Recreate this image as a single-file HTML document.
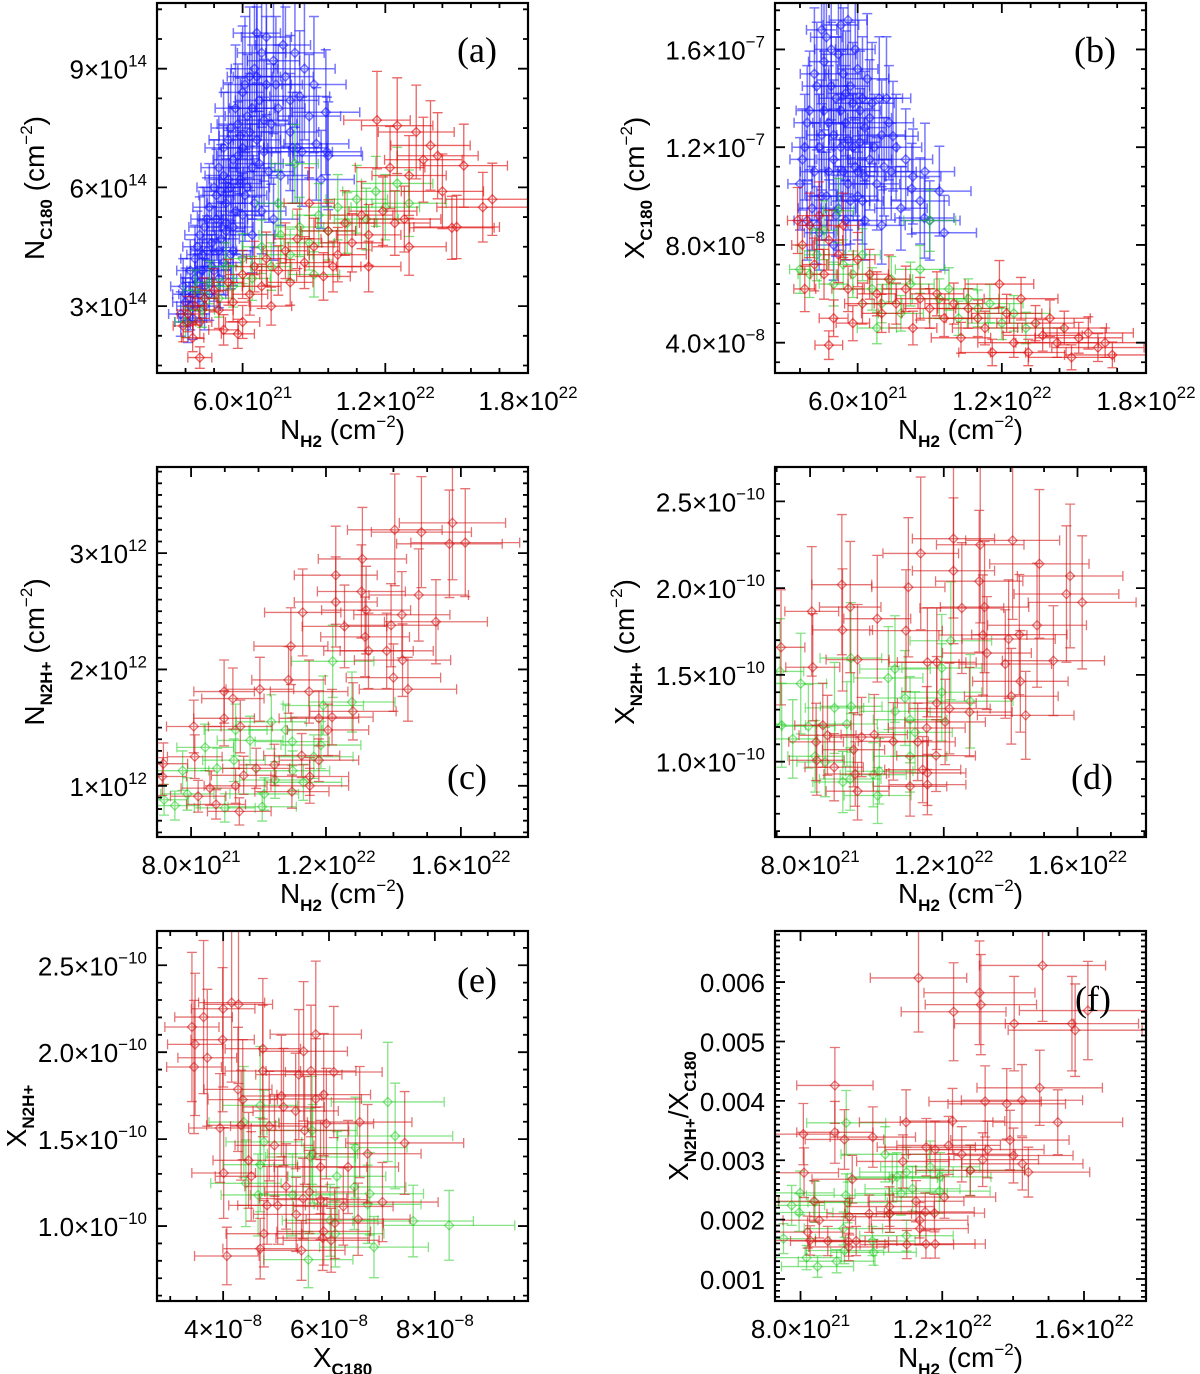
<!DOCTYPE html>
<html><head><meta charset="utf-8"><title>Six-panel scatter with error bars</title>
<style>
html,body{margin:0;padding:0;background:#fff;}
svg{display:block;}
.tick{font-family:"Liberation Sans",sans-serif;font-size:26px;fill:#000;}
.ttl{font-family:"Liberation Sans",sans-serif;font-size:28px;fill:#000;}
.plab{font-family:"Liberation Serif",serif;font-size:36px;fill:#000;}
</style></head>
<body>
<svg id="fig" width="1200" height="1374" viewBox="0 0 1200 1374" xmlns="http://www.w3.org/2000/svg"></svg>
<script>
// ---------- Panel (a): N_C18O vs N_H2 (x in 1e21, y in 1e14)
const aBlueX=[3.4,3.6,3.5,3.7,3.8,3.9,4.0,4.1,4.2,4.3,4.4,4.5,4.6,4.7,4.8,4.9,5.0,5.1,5.2,5.3,5.4,5.5,5.6,5.7,5.8,5.9,6.0,6.1,6.2,6.3,6.4,6.5,6.6,6.7,6.8,6.9,7.0,7.2,7.3,7.5,7.6,7.8,8.0,8.2,8.4,8.5,8.6,8.8,9.0,9.1,9.3,9.5,9.6,5.5,6.0,4.6,5.0,6.8,7.3,8.1,9.55,4.4,5.2,5.9,6.6,
3.6,3.8,4.0,4.1,4.3,4.5,4.7,4.9,5.0,5.1,5.2,5.3,5.4,5.5,5.6,5.7,5.8,5.9,6.0,6.1,6.2,6.3,6.4,6.5,6.6,6.7,6.9,7.0,7.1,7.4,7.7,8.0,8.3,4.2,4.8,5.6,6.4,3.9,4.4,5.3];
const aBlueY=[2.8,3.1,3.5,2.6,3.9,3.3,4.2,3.6,4.8,3.9,5.0,4.4,5.5,4.0,6.0,5.2,6.5,4.7,7.0,5.6,6.2,7.5,5.0,8.0,6.8,7.3,8.4,5.8,7.8,8.8,6.5,9.0,7.2,8.2,9.4,6.9,8.6,7.6,9.2,8.0,6.3,8.8,7.4,9.4,8.3,6.9,9.0,7.8,8.6,7.1,6.2,7.9,6.8,4.3,5.3,3.3,3.7,5.4,5.2,7.0,6.9,3.0,4.1,6.1,9.9,
3.3,3.0,3.7,4.5,4.3,5.2,4.6,5.8,4.4,5.9,6.3,4.9,7.2,6.0,6.7,5.4,7.6,6.2,7.0,8.6,6.0,7.4,8.0,5.6,8.8,6.6,7.7,9.8,6.4,8.6,9.6,8.2,7.0,3.3,3.9,4.4,4.8,2.7,3.5,5.1];
const aRedX=[3.5,3.7,3.9,4.0,4.2,4.4,4.2,4.8,5.0,5.2,5.4,5.6,5.8,6.0,6.3,6.5,6.8,7.0,7.2,7.5,7.8,8.0,8.3,8.6,8.8,9.0,9.4,9.6,10.0,10.3,10.6,11.0,11.3,11.65,11.9,12.5,12.2,12.4,13.0,13.3,13.0,13.9,13.6,14.2,14.4,15.3,15.0,16.1,14.8,16.5,11.3,12.8,9.8,6.0];
const aRedY=[2.5,2.8,2.2,3.0,2.6,3.2,1.7,3.4,2.9,2.4,3.6,3.1,2.3,3.8,3.3,4.0,3.5,4.2,3.0,3.9,4.4,3.6,4.7,4.1,5.6,4.5,3.75,4.9,4.3,5.1,4.6,5.3,4.8,7.7,5.4,7.56,6.5,5.1,4.5,7.4,6.3,7.06,6.7,6.8,5.9,6.55,5.0,5.5,4.98,5.7,4.0,5.2,4.0,2.6];
const aGreenX=[3.6,4.0,4.3,4.6,5.0,5.3,5.6,6.0,6.4,6.8,7.2,7.6,8.0,8.4,8.8,9.2,9.6,10.0,10.4,10.8,11.2,11.6,12.0,12.5,13.0,8.2,7.5,9.0];
const aGreenY=[2.6,3.4,2.9,3.6,3.2,4.0,3.5,4.2,3.7,4.5,4.0,4.8,4.3,5.0,4.6,5.3,4.9,5.5,5.1,5.7,5.2,5.9,5.5,6.1,5.6,6.6,5.6,3.8];
const aXTicks=[6,12,18];
const aXLabels=[["6.0×10","21"],["1.2×10","22"],["1.8×10","22"]];
const aYTicks=[3,6,9];
const aYLabels=[["3×10","14"],["6×10","14"],["9×10","14"]];

// ---------- Panel (b): X_C18O vs N_H2 (x in 1e21, y in 1e-8)
const bBlueX=[3.6,3.8,3.9,4.0,4.2,4.3,4.4,4.5,4.6,4.7,4.8,4.9,5.0,5.1,5.2,5.3,5.4,5.5,5.6,5.7,5.8,5.9,6.0,6.1,6.2,6.3,6.4,6.5,6.6,6.8,7.0,7.2,7.4,7.6,7.8,8.0,8.3,8.6,8.8,9.0,9.4,9.6,7.0,5.0,6.3,4.5,5.6,7.47,8.78,8.25,
3.7,3.9,4.1,4.2,4.4,4.5,4.6,4.8,4.9,5.0,5.1,5.2,5.3,5.4,5.5,5.6,5.7,5.8,5.9,6.0,6.1,6.2,6.3,6.5,6.7,6.9,7.1,7.3,4.3,5.5,6.0,4.7,5.3];
const bBlueY=[10.5,12.0,9.0,13.5,11.0,14.5,8.5,12.5,15.5,10.0,13.0,16.0,11.5,14.0,9.5,12.0,15.0,13.0,10.5,14.5,12.0,16.0,11.0,13.5,9.8,12.8,14.8,11.5,13.8,10.5,12.5,14.0,11.0,12.0,9.5,11.5,10.8,9.8,11.0,9.0,10.2,8.5,8.8,8.0,9.0,16.8,17.2,12.45,9.1,10.3,
11.5,13.0,9.5,15.0,12.0,10.0,13.5,11.0,14.5,12.5,9.2,15.8,13.5,11.0,14.2,12.3,9.8,13.8,11.2,15.2,12.2,14.0,10.8,13.2,12.0,14.0,11.2,13.0,8.8,9.0,10.0,16.5,17.0];
const bRedX=[3.5,3.7,3.8,4.0,4.2,4.4,4.6,4.8,5.0,5.2,5.4,5.6,5.8,6.0,6.2,6.5,6.8,7.0,7.3,7.6,8.0,8.3,8.6,9.0,9.3,9.6,10.0,10.3,10.6,11.0,11.3,11.6,11.9,12.2,12.5,12.8,13.1,13.4,13.7,14.0,14.3,14.6,14.9,15.2,15.6,16.0,16.3,16.6,4.8];
const bRedY=[9.0,8.0,6.2,8.8,7.2,9.2,6.8,8.2,5.0,7.6,8.8,6.2,4.8,7.4,5.6,6.8,6.0,5.2,6.6,5.6,6.2,4.6,5.8,5.4,6.0,5.0,5.6,4.2,5.4,5.0,4.6,3.6,6.4,5.2,4.0,5.8,3.6,4.8,4.3,5.0,4.0,4.6,3.4,4.2,4.4,3.8,4.0,3.5,3.9];
const bGreenX=[3.6,4.0,4.3,4.6,5.0,5.4,5.8,6.2,6.6,7.0,7.4,7.8,8.2,8.6,9.0,9.4,9.8,10.2,10.6,11.0,11.5,12.0,12.5,13.0,5.2,6.8];
const bGreenY=[7.0,6.8,7.6,8.6,6.4,7.2,6.8,7.6,6.2,5.6,6.6,5.2,6.4,7.0,9.0,5.8,6.2,5.0,5.8,5.4,5.6,4.8,5.2,4.6,9.4,4.6];
const bXTicks=[6,12,18];
const bXLabels=[["6.0×10","21"],["1.2×10","22"],["1.8×10","22"]];
const bYTicks=[4,8,12,16];
const bYLabels=[["4.0×10","−8"],["8.0×10","−8"],["1.2×10","−7"],["1.6×10","−7"]];

// ---------- Panel (c): N_N2H+ vs N_H2 (x in 1e21, y in 1e12)
const cRedX=[15.75,14.04,14.83,15.66,16.13,13.08,12.29,14.75,13.05,12.29,13.19,11.31,14.25,12.55,13.93,15.26,13.16,10.96,13.26,13.8,14.27,10.89,14.0,14.43,10.04,8.98,9.24,11.5,11.79,12.18,8.98,8.08,9.46,12.8,12.06,10.47,11.28,11.79,11.52,11.52,8.11,7.18,7.15,8.56,8.21,8.74,9.43,9.32,9.93,9.56,10.99];
const cRedY=[3.26,3.20,3.18,3.08,3.09,2.95,2.81,2.64,2.67,2.58,2.51,2.49,2.47,2.37,2.38,2.41,2.28,2.20,2.16,2.16,2.08,1.91,1.93,1.83,1.83,1.81,1.75,1.81,1.58,1.59,1.58,1.51,1.51,1.64,1.48,1.18,1.26,1.22,1.08,1.00,1.25,1.19,1.08,0.98,0.91,0.84,0.78,1.00,1.15,1.09,0.95];
const cGreenX=[12.2,12.77,11.92,10.38,10.8,9.32,7.75,8.77,9.27,10.17,10.11,9.0,7.2,7.52,7.89,11.01,11.64,11.85,11.0,9.75,8.42,10.49,11.33];
const cGreenY=[2.07,1.72,1.69,1.55,1.48,1.48,1.13,1.15,1.22,0.93,0.82,0.81,0.88,0.83,0.93,1.13,1.25,1.35,1.38,1.39,1.33,1.05,1.03];
const cXTicks=[8,12,16];
const cXLabels=[["8.0×10","21"],["1.2×10","22"],["1.6×10","22"]];
const cYTicks=[1,2,3];
const cYLabels=[["1×10","12"],["2×10","12"],["3×10","12"]];

// ---------- Panel (d): X_N2H+ vs N_H2 (x in 1e21, y in 1e-10)
const dRedX=[12.29,14.06,13.09,11.31,14.86,12.29,15.78,8.95,10.94,13.06,15.67,16.14,12.54,13.22,9.2,8.05,10.01,14.79,8.97,10.87,13.17,14.26,13.94,13.29,15.28,9.42,13.84,11.51,11.79,8.08,7.13,14.29,14.02,14.45,12.77,12.17,11.79,12.04,8.38,8.52,8.18,9.54,9.92,10.49,11.22,11.49,11.77,8.2,8.72,9.3,9.35,9.42,11.37,11.51,10.99,11.51];
const dRedY=[2.285,2.275,2.25,2.20,2.14,2.10,2.07,2.02,2.005,2.04,1.966,1.918,1.885,1.891,1.891,1.866,1.824,1.786,1.759,1.755,1.73,1.732,1.707,1.626,1.582,1.588,1.563,1.573,1.573,1.544,1.659,1.463,1.377,1.267,1.286,1.306,1.338,1.229,1.21,1.152,1.114,1.142,1.156,1.117,1.114,1.194,1.035,1.008,0.968,1.069,0.929,0.83,0.954,0.935,0.858,0.868];
const dGreenX=[12.21,11.94,10.54,10.34,7.1,7.72,9.22,9.23,8.73,9.10,7.15,7.95,7.48,8.15,8.45,8.98,9.2,9.89,10.07,10.02,10.99,10.99,11.14,10.84,10.54,11.94,12.79];
const dGreenY=[1.697,1.54,1.534,1.482,1.52,1.45,1.597,1.319,1.31,1.217,1.21,1.204,1.131,1.031,0.998,0.883,0.9,0.925,0.945,0.805,1.031,1.242,1.169,1.367,1.29,1.4,1.348];
const dXTicks=[8,12,16];
const dXLabels=[["8.0×10","21"],["1.2×10","22"],["1.6×10","22"]];
const dYTicks=[1.0,1.5,2.0,2.5];
const dYLabels=[["1.0×10","−10"],["1.5×10","−10"],["2.0×10","−10"],["2.5×10","−10"]];

// ---------- Panel (e): X_N2H+ vs X_C18O (x in 1e-8, y in 1e-10)
const eRedX=[3.41,3.47,3.63,3.70,3.45,4.0,4.16,4.29,3.99,4.75,4.75,4.28,4.37,3.94,4.34,5.14,5.37,5.52,5.43,5.66,5.75,6.09,5.9,5.75,5.95,5.1,4.87,4.97,5.54,6.58,6.73,7.43,6.36,5.84,4.48,4.53,4.01,5.19,4.83,5.03,5.51,5.63,5.84,6.27,7.01,6.55,5.38,6.11,5.90,4.77,5.88,6.04,4.70,5.48,4.07];
const eRedY=[2.145,2.045,2.202,1.968,1.915,2.25,2.285,2.275,2.072,2.02,1.892,1.786,1.727,1.564,1.58,1.685,1.662,2.005,1.871,1.892,2.103,1.886,1.756,1.731,1.589,1.748,1.575,1.464,1.55,1.598,1.416,1.478,1.34,1.34,1.378,1.286,1.305,1.228,1.119,1.119,1.158,1.196,1.152,1.113,1.138,1.039,1.067,1.017,0.969,0.956,0.931,0.918,0.87,0.86,0.828];
const eGreenX=[7.11,7.25,7.59,8.27,6.85,6.5,6.77,6.48,6.73,6.15,5.68,4.39,4.77,4.70,4.43,4.66,5.61,6.02,6.12,5.65,5.31,4.7,5.69];
const eGreenY=[1.714,1.518,1.029,1.004,0.879,1.451,1.186,1.225,1.125,1.286,1.55,1.598,1.484,1.353,1.246,1.179,0.807,1.033,0.956,1.397,1.179,1.694,1.416];
const eXTicks=[4,6,8];
const eXLabels=[["4×10","−8"],["6×10","−8"],["8×10","−8"]];
const eYTicks=[1.0,1.5,2.0,2.5];
const eYLabels=[["1.0×10","−10"],["1.5×10","−10"],["2.0×10","−10"],["2.5×10","−10"]];

// ---------- Panel (f): X_N2H+/X_C18O vs N_H2 (x in 1e21, y in 1e-3)
const fRedX=[14.83,11.33,13.05,13.09,12.32,14.03,15.66,15.75,16.11,14.75,8.97,13.21,13.82,14.25,15.26,12.29,10.98,8.08,8.97,9.24,10.04,8.1,9.46,11.55,11.8,12.18,12.55,13.28,13.14,13.91,14.01,14.26,14.43,12.79,10.89,11.26,12.06,10.51,8.38,8.53,9.38,9.94,10.52,11.36,11.52,11.78,11.37,8.2,8.27,8.77,9.36,9.57,9.36,11.0,11.54,11.8];
const fRedY=[6.28,6.07,5.82,5.62,5.50,5.30,5.30,5.19,5.52,4.22,4.26,3.99,3.95,4.01,3.64,3.66,3.64,3.44,3.47,3.35,3.39,2.79,2.68,3.22,3.18,3.25,3.10,3.18,3.01,3.34,3.08,2.94,2.80,2.83,2.98,2.31,2.38,2.22,2.31,1.99,2.05,2.10,2.10,1.99,2.13,2.11,1.85,1.79,1.65,1.64,1.63,1.64,1.54,1.58,1.59,1.59];
const fGreenX=[9.29,10.39,10.99,11.66,11.94,11.92,12.79,10.72,10.59,11.16,10.84,7.99,7.75,7.96,7.52,9.21,9.28,10.03,10.06,10.99,8.17,8.48,9.02,9.24,9.33,8.41,10.52];
const fGreenY=[3.63,3.10,2.80,2.89,2.72,2.48,2.83,2.72,2.70,2.52,2.44,2.45,2.24,2.12,1.68,1.85,2.41,1.64,1.45,1.73,1.36,1.21,1.30,1.48,2.29,2.30,2.10];
const fXTicks=[8,12,16];
const fXLabels=[["8.0×10","21"],["1.2×10","22"],["1.6×10","22"]];
const fYTicks=[1,2,3,4,5,6];
const fYLabels=[["0.001",""],["0.002",""],["0.003",""],["0.004",""],["0.005",""],["0.006",""]];

const NS="http://www.w3.org/2000/svg";
const svg=document.getElementById('fig');
function mk(tag,attrs,parent){const e=document.createElementNS(NS,tag);for(const k in attrs)e.setAttribute(k,attrs[k]);(parent||svg).appendChild(e);return e;}
function supText(parent,x,y,anchor,base,sup,cls){
  const t=mk('text',{x:x,y:y,'text-anchor':anchor,'class':cls},parent);
  const s1=mk('tspan',{},t);s1.textContent=base;
  if(sup){const s2=mk('tspan',{dy:-12,'font-size':17},t);s2.textContent=sup;}
  return t;
}
function subTitle(parent,x,y,rot,parts){
  const attrs={x:x,y:y,'text-anchor':'middle','class':'ttl'};
  if(rot)attrs.transform='rotate(-90 '+x+' '+y+')';
  const t=mk('text',attrs,parent);
  let cur=0;
  parts.forEach(p=>{
    const ts=mk('tspan',{},t);ts.textContent=p[0];
    let target=p[1]==='b'?8:(p[1]==='p'?-12:0);
    ts.setAttribute('dy',target-cur);cur=target;
    if(p[1]!=='n'){ts.setAttribute('font-size','17');}
    if(p[1]==='b'){ts.setAttribute('font-weight','bold');}
  });
  return t;
}
const PW=371,PH=370;
function drawPanel(cfg){
  const g=mk('g',{});
  
  
  const L=cfg.x0,T=cfg.y0;
  const sx=v=>L+(v-cfg.xd[0])/(cfg.xd[1]-cfg.xd[0])*PW;
  const sy=v=>T+PH-(v-cfg.yd[0])/(cfg.yd[1]-cfg.yd[0])*PH;
  const cid='clip-'+cfg.id;
  const cp=mk('clipPath',{id:cid},g);mk('rect',{x:L,y:T,width:PW,height:PH},cp);
  const plot=mk('g',{'clip-path':'url(#'+cid+')'},g);
  
  
  cfg.series.forEach(s=>{
    const sg=mk('g',{stroke:s.color,'stroke-opacity':s.op,fill:'none','stroke-width':s.sw||1.3},plot);
    
    
    for(let i=0;i<s.x.length;i++){
      const xv=s.x[i],yv=s.y[i];
      const px=sx(xv),py=sy(yv);
      const x1=sx(xv*(1-s.fx)),x2=sx(xv*(1+s.fx));
      const y1=sy(yv*(1-s.fy)),y2=sy(yv*(1+s.fy));
      const c=5;
      const d='M'+x1+' '+py+'H'+x2+'M'+x1+' '+(py-c)+'V'+(py+c)+'M'+x2+' '+(py-c)+'V'+(py+c)+
              'M'+px+' '+y1+'V'+y2+'M'+(px-c)+' '+y1+'H'+(px+c)+'M'+(px-c)+' '+y2+'H'+(px+c);
      const eb=mk('path',{d:d},sg);
      
      
      const m=4.5;
      const dm=mk('path',{d:'M'+px+' '+(py-m)+'L'+(px+m)+' '+py+'L'+px+' '+(py+m)+'L'+(px-m)+' '+py+'Z'},sg);
      
      
    }
  });
  const fr=mk('rect',{x:L,y:T,width:PW,height:PH,fill:'none',stroke:'#000','stroke-width':2.2},g);
  
  
  const tg=mk('g',{stroke:'#000','stroke-width':1.8},g);
  
  
  let d='';
  for(let v=Math.ceil(cfg.xd[0]/cfg.xm-1e-9)*cfg.xm;v<=cfg.xd[1]+1e-9;v+=cfg.xm){const p=sx(v);d+='M'+p+' '+(T+PH)+'v-5M'+p+' '+T+'v5';}
  for(let v=Math.ceil(cfg.yd[0]/cfg.ym-1e-9)*cfg.ym;v<=cfg.yd[1]+1e-9;v+=cfg.ym){const p=sy(v);d+='M'+L+' '+p+'h5M'+(L+PW)+' '+p+'h-5';}
  cfg.xt.forEach(v=>{const p=sx(v);d+='M'+p+' '+(T+PH)+'v-10M'+p+' '+T+'v10';});
  cfg.yt.forEach(v=>{const p=sy(v);d+='M'+L+' '+p+'h10M'+(L+PW)+' '+p+'h-10';});
  mk('path',{d:d},tg);
  const xg=mk('g',{},g);
  
  
  cfg.xt.forEach((v,i)=>{supText(xg,sx(v),T+PH+37,'middle',cfg.xl[i][0],cfg.xl[i][1],'tick');});
  const yg=mk('g',{},g);
  
  
  cfg.yt.forEach((v,i)=>{supText(yg,L-10,sy(v)+10,'end',cfg.yl[i][0],cfg.yl[i][1],'tick');});
  const xt=subTitle(g,L+PW/2,T+PH+66,false,cfg.xtitle);
  
  
  const yt=subTitle(g,cfg.ytx,T+PH/2,true,cfg.ytitle);
  
  
  const pl=mk('text',{x:cfg.lab[0],y:cfg.lab[1],'text-anchor':'middle','class':'plab'},g);
  pl.textContent='('+cfg.id+')';
  
  
}
const BLUE='#1a1aff',RED='#e01010',GREEN='#22cc22';
const NH2=[["N","n"],["H2","b"],[" (cm","n"],["−2","p"],[")","n"]];
drawPanel({id:'a',name:'panel-a',x0:157,y0:3,xd:[2.4,18.0],yd:[1.31,10.66],xm:1.2,ym:0.75,
  xt:aXTicks,xl:aXLabels,yt:aYTicks,yl:aYLabels,xtitle:NH2,ytx:44,
  ytitle:[["N","n"],["C180","b"],[" (cm","n"],["−2","p"],[")","n"]],lab:[477,62],
  series:[{key:'blue',x:aBlueX,y:aBlueY,color:BLUE,op:0.6,fx:0.15,fy:0.2,sw:1.5},
          {key:'green',x:aGreenX,y:aGreenY,color:GREEN,op:0.6,fx:0.12,fy:0.15},
          {key:'red',x:aRedX,y:aRedY,color:RED,op:0.65,fx:0.12,fy:0.16}]});
drawPanel({id:'b',name:'panel-b',x0:775,y0:3,xd:[2.56,18.0],yd:[2.76,17.9],xm:1.2,ym:0.8,
  xt:bXTicks,xl:bXLabels,yt:bYTicks,yl:bYLabels,xtitle:NH2,ytx:644,
  ytitle:[["X","n"],["C180","b"],[" (cm","n"],["−2","p"],[")","n"]],lab:[1095,62],
  series:[{key:'blue',x:bBlueX,y:bBlueY,color:BLUE,op:0.6,fx:0.14,fy:0.18,sw:1.5},
          {key:'green',x:bGreenX,y:bGreenY,color:GREEN,op:0.6,fx:0.12,fy:0.14},
          {key:'red',x:bRedX,y:bRedY,color:RED,op:0.65,fx:0.12,fy:0.15}]});
drawPanel({id:'c',name:'panel-c',x0:157,y0:467,xd:[6.99,17.99],yd:[0.56,3.74],xm:1.0,ym:0.1,
  xt:cXTicks,xl:cXLabels,yt:cYTicks,yl:cYLabels,xtitle:NH2,ytx:44,
  ytitle:[["N","n"],["N2H+","b"],[" (cm","n"],["−2","p"],[")","n"]],lab:[467,789],
  series:[{key:'green',x:cGreenX,y:cGreenY,color:GREEN,op:0.55,fx:0.1,fy:0.15},
          {key:'red',x:cRedX,y:cRedY,color:'#d41818',op:0.6,fx:0.1,fy:0.15}]});
drawPanel({id:'d',name:'panel-d',x0:775,y0:467,xd:[6.95,18.05],yd:[0.566,2.698],xm:1.0,ym:0.1,
  xt:dXTicks,xl:dXLabels,yt:dYTicks,yl:dYLabels,xtitle:NH2,ytx:634,
  ytitle:[["X","n"],["N2H+","b"],[" (cm","n"],["−2","p"],[")","n"]],lab:[1092,789],
  series:[{key:'green',x:dGreenX,y:dGreenY,color:GREEN,op:0.55,fx:0.1,fy:0.2},
          {key:'red',x:dRedX,y:dRedY,color:'#d41818',op:0.6,fx:0.1,fy:0.2}]});
drawPanel({id:'e',name:'panel-e',x0:157,y0:931,xd:[2.75,9.76],yd:[0.569,2.697],xm:0.5,ym:0.1,
  xt:eXTicks,xl:eXLabels,yt:eYTicks,yl:eYLabels,xtitle:[["X","n"],["C180","b"]],ytx:26,
  ytitle:[["X","n"],["N2H+","b"]],lab:[477,992],
  series:[{key:'green',x:eGreenX,y:eGreenY,color:GREEN,op:0.55,fx:0.15,fy:0.2},
          {key:'red',x:eRedX,y:eRedY,color:'#d41818',op:0.6,fx:0.15,fy:0.2}]});
drawPanel({id:'f',name:'panel-f',x0:775,y0:931,xd:[7.28,17.75],yd:[0.63,6.86],xm:1.0,ym:0.1,
  xt:fXTicks,xl:fXLabels,yt:fYTicks,yl:fYLabels,xtitle:NH2,ytx:688,
  ytitle:[["X","n"],["N2H+","b"],["/X","n"],["C180","b"]],lab:[1093,1011],
  series:[{key:'green',x:fGreenX,y:fGreenY,color:GREEN,op:0.55,fx:0.12,fy:0.15},
          {key:'red',x:fRedX,y:fRedY,color:'#d41818',op:0.6,fx:0.12,fy:0.15}]});
</script>
</body></html>
